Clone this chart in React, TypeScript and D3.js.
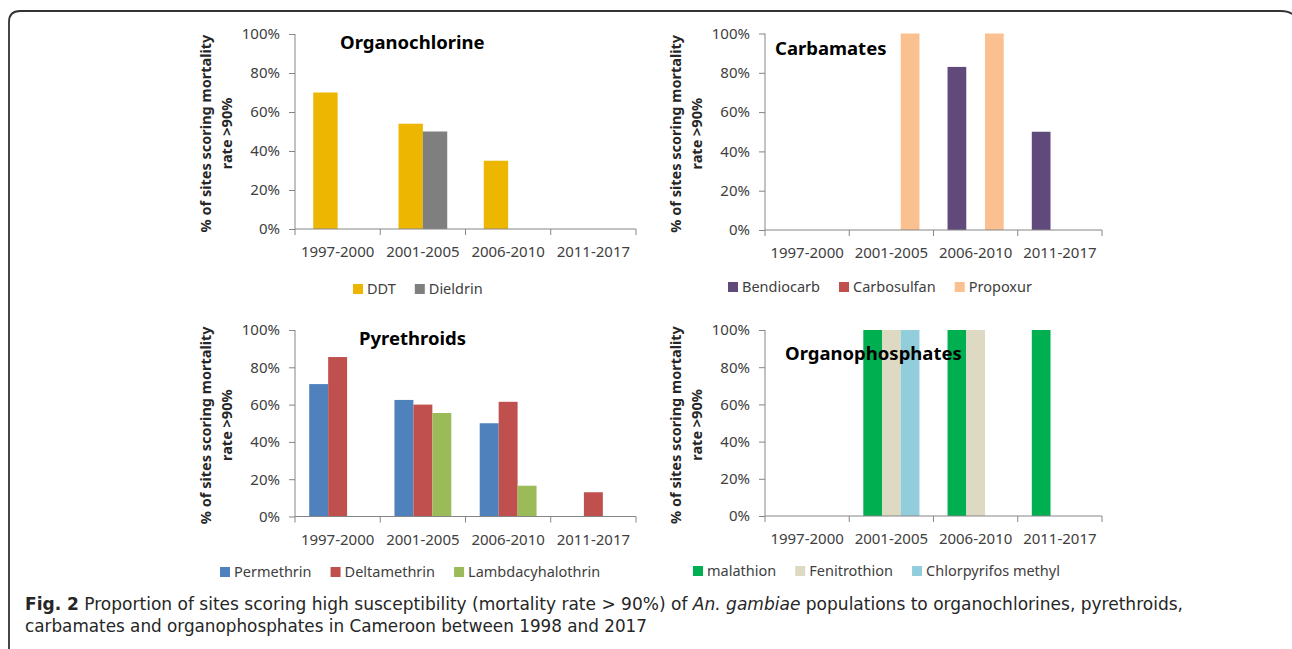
import React from 'react';
import * as d3 from 'd3';

const periods = ['1997-2000', '2001-2005', '2006-2010', '2011-2017'];
const yTicks = [0, 20, 40, 60, 80, 100];

const organochlorineNames = ['DDT', 'Dieldrin'];
const ddt = [70, 54, 35, 0];
const dieldrin = [0, 50, 0, 0];

const carbamateNames = ['Bendiocarb', 'Carbosulfan', 'Propoxur'];
const bendiocarb = [0, 0, 83, 50];
const carbosulfan = [0, 0, 0, 0];
const propoxur = [0, 100, 100, 0];

const pyrethroidNames = ['Permethrin', 'Deltamethrin', 'Lambdacyhalothrin'];
const permethrin = [71, 62.5, 50, 0];
const deltamethrin = [85.5, 60, 61.5, 13];
const lambdacyhalothrin = [0, 55.5, 16.5, 0];

const organophosphateNames = ['malathion', 'Fenitrothion', 'Chlorpyrifos methyl'];
const malathion = [0, 100, 100, 100];
const fenitrothion = [0, 100, 100, 0];
const chlorpyrifos = [0, 100, 0, 0];

interface Panel {
  title: string;
  names: string[];
  values: number[][];
  colors: string[];
  x0: number;
  x1: number;
  yTop: number;
  yZero: number;
  titleX: number;
  titleY: number;
  legendX: number;
  legendY: number;
}

const panels: Panel[] = [
  {
    title: 'Organochlorine',
    names: organochlorineNames,
    values: [ddt, dieldrin],
    colors: ['#EDB600', '#7F7F7F'],
    x0: 295, x1: 636, yTop: 34, yZero: 229,
    titleX: 340, titleY: 49, legendX: 353, legendY: 289,
  },
  {
    title: 'Carbamates',
    names: carbamateNames,
    values: [bendiocarb, carbosulfan, propoxur],
    colors: ['#604A7B', '#C0504D', '#FAC090'],
    x0: 765, x1: 1102, yTop: 33.5, yZero: 230,
    titleX: 775, titleY: 55, legendX: 728, legendY: 287,
  },
  {
    title: 'Pyrethroids',
    names: pyrethroidNames,
    values: [permethrin, deltamethrin, lambdacyhalothrin],
    colors: ['#4F81BD', '#C0504D', '#9BBB59'],
    x0: 295, x1: 636, yTop: 330, yZero: 516.5,
    titleX: 359, titleY: 345, legendX: 220, legendY: 572,
  },
  {
    title: 'Organophosphates',
    names: organophosphateNames,
    values: [malathion, fenitrothion, chlorpyrifos],
    colors: ['#00B050', '#DDD9C3', '#92CDDC'],
    x0: 765, x1: 1102, yTop: 330, yZero: 516,
    titleX: 785, titleY: 360, legendX: 693, legendY: 571,
  },
];

const FONT = "'Noto Sans', 'Open Sans', sans-serif";
const CAPTION_FONT = "'DejaVu Sans Condensed', 'Liberation Sans Narrow', sans-serif";
const AXIS = '#868686';
const LABEL = '#404040';

const App: React.FC = () => {
  const svgRef = React.useRef<SVGSVGElement | null>(null);

  React.useEffect(() => {
    const svg = d3.select(svgRef.current);
    svg.selectAll('*').remove();

    // frame, open at the bottom
    svg
      .append('path')
      .attr('d', 'M9,649 L9,22 Q9,11 20,11 L1281,11 Q1292,11 1296,18')
      .attr('fill', 'none')
      .attr('stroke', '#333')
      .attr('stroke-width', 1.8);

    panels.forEach((p) => {
      const g = svg.append('g');

      const x = d3.scaleBand<string>().domain(periods).range([p.x0, p.x1]);
      const n = p.names.length;
      const barW = x.bandwidth() / (n + 1.5);
      const inner = d3
        .scaleBand<number>()
        .domain(d3.range(n))
        .range([0.75 * barW, 0.75 * barW + n * barW]);
      const y = d3.scaleLinear().domain([0, 100]).range([p.yZero, p.yTop]);

      // y axis
      const yAxis = g
        .append('g')
        .attr('transform', `translate(${p.x0},0)`)
        .call(
          d3
            .axisLeft(y)
            .tickValues(yTicks)
            .tickSize(6)
            .tickPadding(9)
            .tickFormat((d) => `${d}%`)
        );
      yAxis.select('.domain').attr('stroke', AXIS).attr('d', `M0,${p.yZero}V${p.yTop}`);
      yAxis.selectAll('line').attr('stroke', AXIS);
      yAxis
        .selectAll('text')
        .attr('font-family', FONT)
        .attr('font-size', 15)
        .attr('fill', LABEL);

      // bars
      p.values.forEach((vals, si) => {
        g.append('g')
          .selectAll('rect')
          .data(vals.map((v, i) => ({ v, period: periods[i] })).filter((d) => d.v > 0))
          .join('rect')
          .attr('x', (d) => (x(d.period) || 0) + (inner(si) || 0))
          .attr('width', inner.bandwidth())
          .attr('y', (d) => y(d.v))
          .attr('height', (d) => p.yZero - y(d.v))
          .attr('fill', p.colors[si]);
      });

      // x axis
      const xa = g.append('g');
      xa.append('line')
        .attr('x1', p.x0)
        .attr('x2', p.x1)
        .attr('y1', p.yZero)
        .attr('y2', p.yZero)
        .attr('stroke', AXIS);
      const bounds = [...periods.map((d) => x(d) || 0), p.x1];
      xa.selectAll('line.tick')
        .data(bounds)
        .join('line')
        .attr('class', 'tick')
        .attr('x1', (d) => d)
        .attr('x2', (d) => d)
        .attr('y1', p.yZero)
        .attr('y2', p.yZero + 6)
        .attr('stroke', AXIS);
      xa.selectAll('text')
        .data(periods)
        .join('text')
        .attr('x', (d) => (x(d) || 0) + x.bandwidth() / 2)
        .attr('y', p.yZero + 28)
        .attr('text-anchor', 'middle')
        .attr('font-family', FONT)
        .attr('font-size', 15)
        .attr('fill', LABEL)
        .text((d) => d);

      // y axis title
      const cy = (p.yTop + p.yZero) / 2 + 2;
      const yt = g
        .append('text')
        .attr('transform', `translate(${p.x0 - 84},${cy}) rotate(-90)`)
        .attr('text-anchor', 'middle')
        .attr('font-family', FONT)
        .attr('font-weight', 'bold')
        .attr('font-size', 14.5)
        .attr('fill', '#262626');
      yt.append('tspan').attr('x', 0).attr('dy', 0).text('% of sites scoring mortality');
      yt.append('tspan').attr('x', 0).attr('dy', 21).text('rate >90%');

      // chart title, above the bars
      g.append('text')
        .attr('x', p.titleX)
        .attr('y', p.titleY)
        .attr('font-family', FONT)
        .attr('font-weight', 'bold')
        .attr('font-size', 18.5)
        .attr('fill', '#000')
        .text(p.title);

      // legend
      let lx = p.legendX;
      p.names.forEach((name, i) => {
        g.append('rect')
          .attr('x', lx)
          .attr('y', p.legendY - 5)
          .attr('width', 10)
          .attr('height', 10)
          .attr('fill', p.colors[i]);
        const t = g
          .append('text')
          .attr('x', lx + 14)
          .attr('y', p.legendY + 5)
          .attr('font-family', FONT)
          .attr('font-size', 14.5)
          .attr('fill', LABEL)
          .text(name);
        const w = (t.node() as SVGTextElement).getComputedTextLength();
        lx += 14 + w + 19;
      });
    });

    // caption
    const cap1 = svg
      .append('text')
      .attr('x', 25)
      .attr('y', 610)
      .attr('font-family', CAPTION_FONT)
      .attr('font-size', 17)
      .attr('fill', '#262626')
      .attr('textLength', 1158)
      .attr('lengthAdjust', 'spacingAndGlyphs');
    cap1.append('tspan').attr('font-weight', 'bold').text('Fig. 2');
    cap1
      .append('tspan')
      .text(' Proportion of sites scoring high susceptibility (mortality rate > 90%) of ');
    cap1.append('tspan').attr('font-style', 'italic').text('An. gambiae');
    cap1.append('tspan').text(' populations to organochlorines, pyrethroids,');

    svg
      .append('text')
      .attr('x', 25)
      .attr('y', 632)
      .attr('font-family', CAPTION_FONT)
      .attr('font-size', 17)
      .attr('fill', '#262626')
      .attr('textLength', 622)
      .attr('lengthAdjust', 'spacingAndGlyphs')
      .text('carbamates and organophosphates in Cameroon between 1998 and 2017');
  }, []);

  return (
    <svg
      ref={svgRef}
      width={1292}
      height={649}
      style={{ position: 'absolute', left: 0, top: 0, background: '#fff' }}
    />
  );
};

export default App;
